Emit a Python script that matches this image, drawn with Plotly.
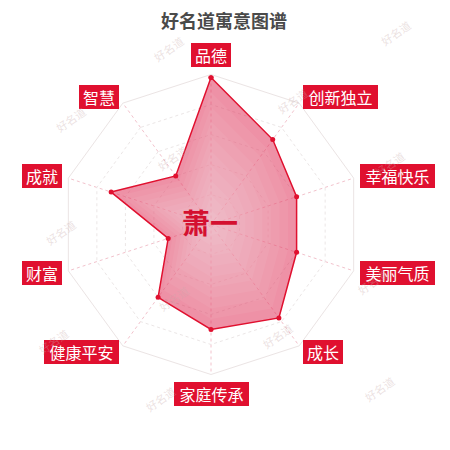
import numpy as np
import plotly.graph_objects as go

# 数据
categories = ["品德", "创新独立", "幸福快乐", "美丽气质", "成长",
              "家庭传承", "健康平安", "财富", "成就", "智慧"]
scores = [98, 70, 60, 60, 77, 70, 60, 30, 70, 40]
name_text = "萧一"
title_text = "好名道寓意图谱"
ring_levels = [20, 40, 60, 80, 100]

# 页面 body 有 8px 边距, 图内坐标 = 参考像素 - 8
OFF = 8
W = H = 442
cx, cy, R = 211 - OFF, 224.5 - OFF, 150
label_r = 157
red = "#e0102f"


def px2paper(x, y):
    return (x - OFF) / W, 1 - (y - OFF) / H


fig = go.Figure()

closed_r = scores + scores[:1]
closed_t = categories + categories[:1]

fig.add_trace(go.Scatterpolar(
    r=closed_r, theta=closed_t,
    mode="lines+markers",
    line=dict(color=red, width=1.5),
    marker=dict(color=red, size=5),
    fill="toself",
    fillcolor="rgba(222,45,85,0.52)",
    showlegend=False,
))

# 中心变浅, 模拟径向渐变
for k in [0.9, 0.8, 0.7, 0.6, 0.5, 0.4, 0.3, 0.2, 0.1]:
    fig.add_trace(go.Scatterpolar(
        r=[v * k for v in closed_r], theta=closed_t,
        mode="lines", line=dict(width=0, color="rgba(0,0,0,0)"),
        fill="toself", fillcolor="rgba(255,255,255,0.055)",
        hoverinfo="skip", showlegend=False,
    ))

fig.update_layout(
    width=W,
    height=H,
    margin=dict(l=0, r=0, t=0, b=0),
    paper_bgcolor="white",
    font=dict(family="Noto Sans CJK SC"),
    polar=dict(
        domain=dict(x=[(cx - R) / W, (cx + R) / W],
                    y=[1 - (cy + R) / H, 1 - (cy - R) / H]),
        bgcolor="white",
        gridshape="linear",
        radialaxis=dict(range=[0, 100], tickvals=ring_levels, showticklabels=False,
                        ticks="", showline=False, gridcolor="#ebe6e6", griddash="dot"),
        angularaxis=dict(direction="clockwise", rotation=90, showticklabels=False,
                         ticks="", showline=True, linecolor="#ebe4e4",
                         gridcolor="#f2c2cc", griddash="dot"),
    ),
)

# 维度标签 (红底白字)
n = len(categories)
for i, cat in enumerate(categories):
    ang = 2 * np.pi * i / n
    s, c = np.sin(ang), np.cos(ang)
    px = cx + label_r * s
    py = cy - label_r * c
    if abs(s) < 0.1:
        xa = "center"
        ya = "bottom" if c > 0 else "top"
    else:
        xa = "left" if s > 0 else "right"
        ya = "middle"
    fig.add_annotation(
        x=px / W, y=1 - py / H, xref="paper", yref="paper",
        text=cat, showarrow=False, xanchor=xa, yanchor=ya,
        font=dict(size=16, color="white"),
        width=len(cat) * 17.5 + 5,
        bgcolor=red, borderwidth=0, borderpad=0,
    )

# 标题与中心名字
tx, ty = px2paper(224, 20)
fig.add_annotation(x=tx, y=ty, xref="paper", yref="paper", yanchor="middle",
                   text="<b>" + title_text + "</b>", showarrow=False,
                   font=dict(size=18, color="#4a4a4a"))
nx, ny = px2paper(210, 222)
fig.add_annotation(x=nx, y=ny, xref="paper", yref="paper", yanchor="middle",
                   text="<b>" + name_text + "</b>", showarrow=False,
                   font=dict(size=28, color="#d41030"))

# 水印
marks = [(168, 30), (416, 14), (50, 100), (292, 82), (410, 145), (172, 158),
         (40, 232), (393, 282), (153, 298), (277, 355), (33, 360), (160, 418), (400, 408)]
for mx, my in marks:
    wx, wy = px2paper(mx, my)
    fig.add_annotation(x=wx, y=wy, xref="paper", yref="paper",
                       text="好名道", showarrow=False, textangle=-35,
                       font=dict(size=11, color="rgba(200,170,170,0.35)"))

fig.write_html("out.html")
